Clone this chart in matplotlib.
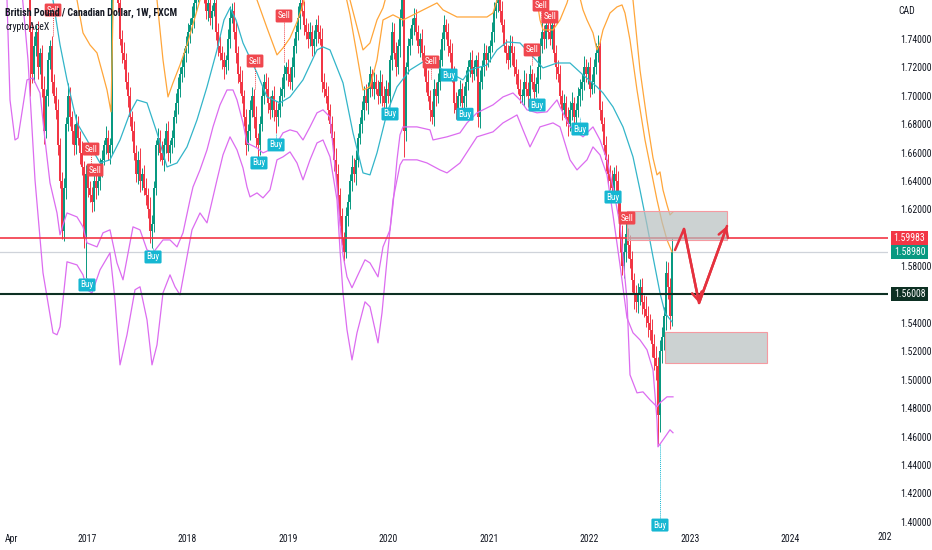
import numpy as np
import matplotlib
matplotlib.use("Agg")
import matplotlib.pyplot as plt
import matplotlib.transforms as mtransforms
from matplotlib.patches import Rectangle
from matplotlib import font_manager

# ---------------- data ----------------
START = 2016.393      # fractional year of the first weekly candle
STEP = 0.0199         # candle spacing (years)
OPEN0 = 1.862

closes = [
    1.86, 1.88, 1.745, 1.715, 1.735, 1.745, 1.72, 1.73, 1.705, 1.675, 1.70, 1.725, 1.735, 1.71, 1.70, 1.69, 1.665, 1.64,
    1.605, 1.635, 1.68, 1.70, 1.685, 1.675, 1.665, 1.68, 1.67, 1.66, 1.65, 1.60, 1.645, 1.635, 1.63, 1.625, 1.64, 1.635,
    1.64, 1.65, 1.655, 1.665, 1.67, 1.66, 1.665, 1.775, 1.78, 1.775, 1.765, 1.74, 1.73, 1.725, 1.71, 1.70, 1.685, 1.675,
    1.66, 1.645, 1.655, 1.64, 1.645, 1.635, 1.63, 1.62, 1.605, 1.61, 1.635, 1.665, 1.67, 1.66, 1.655, 1.665, 1.675, 1.66,
    1.665, 1.67, 1.685, 1.695, 1.705, 1.715, 1.72, 1.73, 1.735, 1.745, 1.75, 1.755, 1.765, 1.77, 1.775, 1.775, 1.78, 1.77,
    1.76, 1.765, 1.755, 1.76, 1.765, 1.745, 1.735, 1.73, 1.725, 1.72, 1.725, 1.74, 1.755, 1.76, 1.745, 1.73, 1.715, 1.71,
    1.70, 1.685, 1.665, 1.675, 1.69, 1.70, 1.685, 1.67, 1.665, 1.68, 1.70, 1.71, 1.705, 1.695, 1.69, 1.70, 1.69, 1.685,
    1.69, 1.70, 1.705, 1.715, 1.72, 1.715, 1.71, 1.72, 1.735, 1.745, 1.755, 1.765, 1.76, 1.75, 1.745, 1.74, 1.745, 1.735,
    1.74, 1.75, 1.745, 1.74, 1.71, 1.705, 1.70, 1.69, 1.68, 1.67, 1.655, 1.645, 1.63, 1.615, 1.60, 1.59, 1.615, 1.625,
    1.64, 1.65, 1.645, 1.655, 1.67, 1.68, 1.69, 1.70, 1.695, 1.705, 1.715, 1.705, 1.71, 1.705, 1.70, 1.71, 1.70, 1.695,
    1.705, 1.70, 1.725, 1.745, 1.73, 1.72, 1.735, 1.755, 1.77, 1.675, 1.72, 1.735, 1.74, 1.75, 1.755, 1.745, 1.735, 1.74,
    1.73, 1.72, 1.71, 1.70, 1.69, 1.685, 1.705, 1.70, 1.71, 1.725, 1.74, 1.75, 1.745, 1.735, 1.73, 1.715, 1.695, 1.69,
    1.70, 1.705, 1.695, 1.70, 1.71, 1.72, 1.725, 1.715, 1.72, 1.725, 1.685, 1.71, 1.72, 1.73, 1.725, 1.73, 1.735, 1.745,
    1.76, 1.765, 1.77, 1.76, 1.75, 1.735, 1.73, 1.725, 1.735, 1.73, 1.72, 1.715, 1.705, 1.70, 1.70, 1.71, 1.705, 1.70,
    1.715, 1.71, 1.703, 1.708, 1.72, 1.735, 1.745, 1.74, 1.75, 1.745, 1.74, 1.75, 1.73, 1.72, 1.715, 1.70, 1.69, 1.695,
    1.685, 1.68, 1.69, 1.695, 1.685, 1.69, 1.70, 1.705, 1.71, 1.72, 1.715, 1.72, 1.705, 1.71, 1.72, 1.73, 1.735, 1.69,
    1.68, 1.665, 1.655, 1.645, 1.64, 1.635, 1.645, 1.64, 1.625, 1.60, 1.58, 1.59, 1.603, 1.595, 1.585, 1.57, 1.56, 1.555,
    1.56, 1.565, 1.555, 1.55, 1.545, 1.54, 1.535, 1.525, 1.515, 1.51, 1.475, 1.52, 1.53, 1.545, 1.575, 1.565, 1.545, 1.5898,
]
# wick lengths in units of 0.001
up_wick = [
    8, 6, 5, 6, 7, 5, 8, 4, 6, 9, 5, 6, 4, 7, 5, 6, 8, 5,
    6, 7, 5, 9, 6, 4, 5, 7, 6, 5, 8, 4, 6, 7, 5, 6, 4, 8,
    5, 6, 7, 4, 9, 6, 5, 8, 6, 7, 4, 5, 6, 8, 5, 7, 6, 4,
    7, 5, 6, 8, 4, 6, 7, 5, 9, 6, 5, 4, 7, 6, 8, 5, 6, 7,
    4, 6, 5, 7, 8, 5, 6, 4, 7, 6, 5, 8, 6, 7, 5, 4, 6, 9,
    5, 7, 6, 4, 8, 5, 6, 7, 5, 6, 4, 7, 8, 5, 6, 7, 5, 6,
    8, 4, 6, 5, 7, 6, 5, 8, 4, 6, 7, 5, 6, 8, 5, 4, 7, 6,
    5, 6, 8, 7, 4, 6, 5, 7, 6, 5, 8, 6, 4, 7, 5, 6, 7, 5,
    6, 4, 7, 5, 8, 6, 5, 7, 4, 6, 5, 8, 7, 5, 6, 4, 7, 6,
    5, 8, 6, 7, 4, 5, 6, 7, 8, 5, 6, 4, 7, 5, 6, 8, 5, 7,
    6, 5, 4, 7, 6, 8, 5, 6, 7, 5, 4, 6, 8, 5, 7, 6, 5, 4,
    7, 6, 5, 8, 4, 6, 7, 5, 6, 8, 5, 7, 4, 6, 5, 7, 6, 8,
    5, 6, 4, 7, 8, 5, 6, 7, 5, 4, 6, 8, 5, 7, 6, 5, 4, 7,
    6, 8, 5, 6, 7, 4, 5, 6, 8, 7, 5, 6, 4, 7, 5, 8, 6, 5,
    7, 4, 6, 5, 8, 6, 7, 5, 4, 6, 7, 5, 8, 6, 5, 7, 4, 6,
    5, 7, 6, 8, 4, 5, 6, 7, 5, 8, 6, 4, 7, 5, 6, 7, 8, 5,
    6, 5, 7, 4, 6, 8, 5, 6, 7, 5, 9, 6, 8, 4, 7, 6, 5, 7,
    8, 6, 7, 5, 9, 7, 6, 8, 7, 9, 6, 8, 7, 6, 9, 8, 7, 10,
]
dn_wick = [
    7, 5, 45, 6, 5, 7, 8, 5, 6, 9, 5, 7, 6, 8, 5, 6, 7, 5,
    6, 7, 8, 5, 6, 9, 7, 6, 5, 8, 6, 7, 28, 6, 5, 7, 6, 8,
    5, 6, 7, 4, 6, 5, 8, 6, 7, 5, 6, 4, 7, 6, 5, 8, 6, 7,
    5, 6, 7, 8, 6, 5, 7, 6, 9, 12, 6, 5, 7, 6, 4, 8, 5, 6,
    7, 5, 6, 4, 8, 6, 5, 7, 6, 5, 8, 6, 7, 5, 4, 6, 7, 5,
    6, 7, 5, 8, 4, 6, 7, 5, 6, 8, 5, 7, 6, 4, 5, 7, 6, 8,
    5, 6, 7, 4, 6, 5, 8, 6, 10, 7, 5, 6, 4, 7, 6, 5, 8, 11,
    6, 5, 7, 6, 4, 8, 5, 6, 7, 5, 6, 8, 4, 7, 5, 6, 5, 7,
    6, 5, 8, 4, 7, 6, 5, 7, 6, 4, 8, 5, 6, 7, 5, 6, 4, 7,
    5, 7, 6, 8, 5, 4, 6, 7, 5, 8, 6, 5, 7, 4, 6, 5, 7, 6,
    8, 5, 6, 7, 4, 6, 5, 8, 6, 18, 7, 5, 6, 4, 7, 6, 5, 8,
    5, 6, 7, 4, 8, 5, 6, 7, 5, 6, 4, 8, 5, 7, 6, 5, 7, 6,
    4, 7, 6, 5, 8, 6, 7, 5, 4, 6, 7, 8, 5, 6, 7, 5, 6, 4,
    7, 5, 6, 8, 5, 4, 7, 6, 5, 8, 6, 7, 4, 5, 6, 7, 5, 8,
    6, 5, 7, 4, 6, 8, 5, 7, 6, 5, 4, 7, 6, 8, 5, 6, 7, 5,
    6, 8, 5, 7, 4, 6, 5, 7, 8, 6, 5, 7, 6, 4, 8, 5, 6, 7,
    5, 6, 8, 7, 6, 5, 9, 7, 8, 10, 6, 8, 7, 9, 6, 8, 10, 7,
    8, 7, 9, 6, 8, 10, 7, 9, 8, 10, 20, 12, 8, 9, 10, 8, 9, 7,
]

# indicator lines: positions in candle index units, values in CAD
ma_i = [0, 7, 13.5, 17, 20.5, 25.5, 30.5, 37, 42, 47, 52, 55.5, 60.5, 65.5, 70.5, 75.5, 80.5, 85.5, 90.5, 95.5,
        99, 102, 105, 108.5, 115.5, 120.5, 127, 132, 138.5, 145.5, 148.5, 152, 158.5, 163.5, 168.5, 172, 175.5,
        180.5, 185.5, 192, 198.5, 205.5, 212, 218.5, 222, 230.5, 235.5, 240.5, 247, 253.5, 258.5, 265.5, 272,
        278.5, 285.5, 288.5, 293.5, 298.5, 303.5, 307, 310.5, 313.5, 317, 319.5, 323]
ma_v = [1.87, 1.81, 1.7675, 1.736, 1.7112, 1.6809, 1.6689, 1.6527, 1.6549, 1.6689, 1.688, 1.6971, 1.695, 1.6739,
        1.6499, 1.6527, 1.664, 1.683, 1.7063, 1.7323, 1.7534, 1.7619, 1.7534, 1.7372, 1.7161, 1.6992, 1.695, 1.6992,
        1.7112, 1.7323, 1.7344, 1.7323, 1.7091, 1.6739, 1.6457, 1.6443, 1.6598, 1.688, 1.7063, 1.7182, 1.7239,
        1.7203, 1.7161, 1.7112, 1.7182, 1.7217, 1.7323, 1.7379, 1.7372, 1.7274, 1.7196, 1.7231, 1.7231, 1.7147,
        1.7063, 1.702, 1.6922, 1.6781, 1.657, 1.6337, 1.6091, 1.5866, 1.5612, 1.5471, 1.5408]

up1_i = [-10, 17, 25.5, 28.5, 32, 35.5, 38.5, 40.5, 42.5, 44, 62, 65.5, 68.5, 71, 73.5, 77, 80.5, 87, 92, 111,
         115.5, 120.5, 125.5, 128.5, 132, 135.5, 138.5, 142, 157, 162, 165.5, 168.5, 172, 175.5, 178.5, 183.5,
         188.5, 195.5, 205.5, 208.5, 215.5, 222, 230.5, 233.5, 235.5, 238.5, 252, 255.5, 257, 258.5, 263.5, 267,
         270.5, 273, 276, 278.5, 280.5, 283.5, 285.5, 287, 288.5, 292, 295.5, 298, 299.5, 302, 305.5, 309.5, 313,
         315.5, 318, 320.5, 323]
up1_v = [1.85, 1.81, 1.7675, 1.7443, 1.7358, 1.7302, 1.7147, 1.7041, 1.6887, 1.796, 1.796, 1.7675, 1.7253, 1.6992,
         1.7091, 1.7217, 1.7358, 1.7675, 1.796, 1.796, 1.7675, 1.7478, 1.7288, 1.7337, 1.7407, 1.752, 1.764, 1.789,
         1.789, 1.757, 1.7288, 1.7041, 1.7063, 1.7253, 1.7534, 1.757, 1.7534, 1.7583, 1.7654, 1.7605, 1.7555,
         1.7555, 1.7555, 1.7583, 1.7675, 1.785, 1.785, 1.7675, 1.7534, 1.7464, 1.7464, 1.7534, 1.7654, 1.778,
         1.7745, 1.7605, 1.7534, 1.7443, 1.7323, 1.7372, 1.7464, 1.7583, 1.7626, 1.764, 1.7583, 1.7393, 1.7041,
         1.6689, 1.6443, 1.6267, 1.6112, 1.5985, 1.5901]

up2_i = [-13, 157, 162, 165.5, 168.5, 172, 175.5, 178.5, 182, 297, 303.5, 307, 310.5, 313.5, 315.5, 317, 318.5,
         320.5, 322, 323.5]
up2_v = [1.95, 1.81, 1.7675, 1.7485, 1.7323, 1.7372, 1.7534, 1.7619, 1.78, 1.789, 1.7675, 1.7182, 1.683, 1.6563,
         1.6443, 1.6464, 1.6337, 1.6232, 1.6161, 1.6182]

lo1_i = [-13, -9.5, -8, -5.5, -4, 0.5, 3.5, 7, 9.5, 12, 15.5, 17, 18.5, 20.5, 25.5, 28.5, 30.5, 35.5, 38.5, 42,
         45.5, 48.5, 53.5, 57, 60.5, 63.5, 68.5, 72, 75.5, 78.5, 82, 83.5, 87, 90.5, 93.5, 97, 100.5, 103.5, 105.5,
         108.5, 110.5, 115.5, 118.5, 122, 125.5, 128.5, 132, 135.5, 138.5, 142, 145.5, 148.5, 152, 153.5, 155.5,
         157, 158.5, 160.5, 163, 165.5, 169.5, 172, 176, 178.5, 182, 183.5, 185.5, 187, 188.5, 195.5, 202, 203.5,
         210.5, 217, 220.5, 225.5, 233.5, 238.5, 243.5, 247, 250.5, 255.5, 260.5, 265.5, 267, 272, 278.5, 283.5,
         287, 290.5, 293.5, 297, 300.5, 302, 305.5, 308.5, 312, 315.5, 317, 320.5, 323.5]
lo1_v = [1.824, 1.7675, 1.6971, 1.6689, 1.6703, 1.7112, 1.7126, 1.702, 1.6689, 1.6387, 1.6175, 1.6021, 1.6091,
         1.6175, 1.6147, 1.6077, 1.5964, 1.5936, 1.6035, 1.6056, 1.5823, 1.5704, 1.6077, 1.6056, 1.5915, 1.5894,
         1.5985, 1.5985, 1.5936, 1.6035, 1.6267, 1.6358, 1.6478, 1.6619, 1.6781, 1.6936, 1.7041, 1.7041, 1.6971,
         1.6809, 1.6668, 1.6633, 1.6598, 1.6619, 1.6668, 1.6739, 1.676, 1.6746, 1.6689, 1.6781, 1.688, 1.6901,
         1.6851, 1.664, 1.6358, 1.6091, 1.588, 1.5725, 1.5648, 1.5725, 1.5845, 1.5823, 1.5725, 1.5936, 1.6056,
         1.6232, 1.6549, 1.6725, 1.6781, 1.6781, 1.676, 1.6689, 1.6711, 1.6739, 1.6809, 1.688, 1.6936, 1.6992,
         1.702, 1.6971, 1.6901, 1.688, 1.6887, 1.6971, 1.6922, 1.6781, 1.6711, 1.6781, 1.6689, 1.6549, 1.6358,
         1.6091, 1.5563, 1.5035, 1.4908, 1.4915, 1.4859, 1.481, 1.4838, 1.488, 1.488]

lo2_i = [-3, 1, 4.5, 8.5, 13.5, 15.5, 17, 18.5, 20.5, 25.5, 28.5, 30.5, 33, 37, 42, 44.5, 47, 50.5, 54.5, 57, 60.5,
         63, 65.5, 68.5, 72, 74.5, 77, 80.5, 83, 87, 90.5, 95.5, 98.5, 102, 105.5, 108.5, 110.5, 112, 115.5, 118.5,
         122, 125.5, 128.5, 132, 135.5, 138.5, 142, 145.5, 148.5, 152, 155.5, 157, 158.5, 160.5, 163, 165.5, 169.5,
         172, 176, 178, 180.5, 183.5, 187, 188.5, 195.5, 200.5, 207, 210.5, 217, 225.5, 233.5, 238.5, 245.5, 248.5,
         252, 257, 263.5, 267, 272, 275.5, 280.5, 283.5, 287, 290.5, 293.5, 297, 300.5, 303.5, 307, 310.5, 313.5,
         315.5, 316, 318.5, 322, 323.5]
lo2_v = [1.7886, 1.7253, 1.6408, 1.5753, 1.5331, 1.5317, 1.5373, 1.5563, 1.5831, 1.5809, 1.5739, 1.5634, 1.5612,
         1.5774, 1.5894, 1.5563, 1.5105, 1.5317, 1.5634, 1.5655, 1.5422, 1.5105, 1.5246, 1.5612, 1.5739, 1.5655,
         1.5598, 1.5866, 1.6056, 1.6175, 1.6105, 1.6408, 1.6584, 1.6711, 1.6619, 1.6492, 1.6358, 1.6288, 1.6316,
         1.6281, 1.6337, 1.6549, 1.657, 1.6605, 1.6527, 1.6408, 1.6549, 1.6668, 1.6689, 1.657, 1.6267, 1.5915,
         1.5612, 1.5352, 1.514, 1.5331, 1.5549, 1.5514, 1.526, 1.5471, 1.5845, 1.6267, 1.6513, 1.6549, 1.6549,
         1.6527, 1.6478, 1.6457, 1.6527, 1.6711, 1.6746, 1.6809, 1.6865, 1.676, 1.664, 1.6781, 1.6809, 1.6781,
         1.6549, 1.6478, 1.6549, 1.664, 1.6584, 1.6443, 1.6161, 1.5809, 1.5436, 1.5331, 1.5281, 1.5211, 1.507,
         1.4718, 1.4528, 1.4577, 1.4648, 1.4627]

# signals
sell_dates = [2016.662, 2017.040, 2017.080, 2018.672, 2018.960, 2020.423, 2021.428, 2021.517, 2021.607, 2022.373]
sell_prices = [1.7604, 1.6625, 1.6477, 1.7245, 1.7562, 1.7238, 1.7323, 1.7639, 1.7555, 1.6139]
buy_dates = [2017.000, 2017.657, 2018.711, 2018.881, 2020.015, 2020.602, 2020.761, 2021.478, 2021.905, 2022.234, 2022.701]
buy_prices = [1.5668, 1.5865, 1.6527, 1.6654, 1.6872, 1.7146, 1.687, 1.6935, 1.6766, 1.6287, 1.3977]

# drawings
level_resist = 1.59983
level_support = 1.56008
last_price = 1.58980
zone1 = (2022.373, 2023.368, 1.5984, 1.6189)   # x0, x1, y0, y1
zone2 = (2022.751, 2023.766, 1.5118, 1.5337)
arrow_dates = [2022.851, 2022.940, 2023.090, 2023.368]
arrow_prices = [1.5914, 1.6062, 1.5541, 1.6083]

year_ticks = [2016.25, 2017, 2018, 2019, 2020, 2021, 2022, 2023, 2024]
year_labels = ["Apr", "2017", "2018", "2019", "2020", "2021", "2022", "2023", "2024"]
price_ticks = [1.40, 1.42, 1.44, 1.46, 1.48, 1.50, 1.52, 1.54, 1.58, 1.62, 1.64, 1.66, 1.68, 1.70, 1.72, 1.74]

# ---------------- fonts ----------------
def pick_font():
    fl = font_manager.fontManager.ttflist
    names = {f.name for f in fl}
    for n in ["Liberation Sans Narrow", "Roboto Condensed", "DejaVu Sans Condensed",
              "Noto Sans Condensed", "Open Sans Condensed"]:
        if n in names:
            return n, "normal"
    for f in fl:
        if f.stretch in ("condensed", "semi-condensed") and f.style == "normal" and \
                f.name in ("DejaVu Sans", "Noto Sans", "Open Sans", "Roboto", "Liberation Sans"):
            return f.name, f.stretch
    return None, "normal"

fname, fstretch = pick_font()
if fname:
    plt.rcParams["font.family"] = [fname, "DejaVu Sans"]
    plt.rcParams["font.stretch"] = fstretch
    FS, FS_T = 7.0, 7.2
else:
    plt.rcParams["font.family"] = ["Roboto", "DejaVu Sans"]
    FS, FS_T = 6.2, 6.3

GREEN = "#089981"
RED = "#f23645"
CYAN = "#33b5c9"
ORANGE = "#ffa63a"
MAGENTA = "#dc6cf0"
TXT = "#131722"
BUYC = "#16b7d2"
SELLC = "#f0474e"

fig = plt.figure(figsize=(9.32, 5.5), dpi=100)
ax = fig.add_axes([0, 22 / 550, 888 / 932, 528 / 550])
ax.set_xlim(2016.1343, 2024.970)
ax.set_ylim(1.39563, 1.76746)
for s in ax.spines.values():
    s.set_visible(False)

def xpos(idx):
    return START + STEP * np.asarray(idx, dtype=float)

# candles
c = np.array(closes)
o = np.array([OPEN0] + closes[:-1])
hi = np.maximum(o, c) + np.array(up_wick) / 1000.0
lo = np.minimum(o, c) - np.array(dn_wick) / 1000.0
x = xpos(np.arange(len(c)))
col = np.where(c >= o, GREEN, RED)
ax.vlines(x, lo, hi, colors=col, lw=0.7, zorder=3)
ax.bar(x, np.maximum(np.abs(c - o), 0.0008), bottom=np.minimum(o, c), width=STEP * 0.9,
       color=col, lw=0, zorder=3)

# indicator lines
ax.plot(xpos(ma_i), ma_v, color=CYAN, lw=0.9, zorder=4)
ax.plot(xpos(up1_i), up1_v, color=ORANGE, lw=0.9, zorder=4)
ax.plot(xpos(up2_i), up2_v, color=ORANGE, lw=0.9, zorder=4)
ax.plot(xpos(lo1_i), lo1_v, color=MAGENTA, lw=0.9, zorder=4)
ax.plot(xpos(lo2_i), lo2_v, color=MAGENTA, lw=0.9, zorder=4)

# horizontal levels
ax.axhline(last_price, color="#cfd3da", lw=0.9, zorder=2)
ax.axhline(level_resist, color=RED, lw=1.2, zorder=5)
ax.axhline(level_support, color="#0d3023", lw=1.5, zorder=5)

# zones
for (x0, x1, y0, y1) in (zone1, zone2):
    ax.add_patch(Rectangle((x0, y0), x1 - x0, y1 - y0, facecolor="#b7bfbf", alpha=0.7,
                           edgecolor="none", zorder=6))
    ax.add_patch(Rectangle((x0, y0), x1 - x0, y1 - y0, facecolor="none",
                           edgecolor="#f59aa1", lw=0.8, zorder=6))

# projection arrows
ax.plot(arrow_dates, arrow_prices, color="#e5313e", lw=1.8, zorder=7, solid_capstyle="round")
for k in (2, 3):
    ax.annotate("", xy=(arrow_dates[k], arrow_prices[k]),
                xytext=(arrow_dates[k - 1], arrow_prices[k - 1]),
                arrowprops=dict(arrowstyle="->,head_length=0.6,head_width=0.35", color="#e5313e",
                                lw=1.8, shrinkA=0, shrinkB=0), zorder=7)

# signals with dotted connectors to the bar
HALF = 0.0045
def near(d):
    k = int(round((d - START) / STEP))
    return max(0, k - 1), min(len(c), k + 2)

for d, p in zip(sell_dates, sell_prices):
    a, b = near(d)
    top = hi[a:b].max()
    if p - HALF > top:
        ax.plot([d, d], [top, p - HALF], color=SELLC, lw=0.7, ls=(0, (1, 1)), zorder=8)
    ax.text(d, p, "Sell", color="white", fontsize=FS - 0.5, ha="center", va="center", zorder=9,
            bbox=dict(boxstyle="round,pad=0.22,rounding_size=0.15", fc=SELLC, ec="none"))
for d, p in zip(buy_dates, buy_prices):
    a, b = near(d)
    bot = lo[a:b].min()
    if p + HALF < bot:
        ax.plot([d, d], [p + HALF, bot], color=BUYC, lw=0.7, ls=(0, (1, 1)), zorder=8)
    ax.text(d, p, "Buy", color="white", fontsize=FS - 0.5, ha="center", va="center", zorder=9, clip_on=False,
            bbox=dict(boxstyle="round,pad=0.22,rounding_size=0.15", fc=BUYC, ec="none"))

# axes ticks
ax.yaxis.tick_right()
ax.set_yticks(price_ticks)
ax.set_yticklabels([f"{v:.5f}" for v in price_ticks])
ax.tick_params(axis="y", length=0, pad=9, labelsize=FS, labelcolor=TXT)
ax.set_xticks(year_ticks)
ax.set_xticklabels(year_labels)
ax.tick_params(axis="x", length=0, pad=4, labelsize=FS, labelcolor=TXT)
ax.text(2024.94, -9 / 528, "202", transform=mtransforms.blended_transform_factory(ax.transData, ax.transAxes),
        ha="center", va="center", fontsize=FS, color=TXT, clip_on=False)

# right price boxes
trans = mtransforms.blended_transform_factory(ax.transAxes, ax.transData)
bh = 14 / 1420
for p, fc in ((level_resist, RED), (last_price, GREEN), (level_support, "#0d3023")):
    ax.add_patch(Rectangle((891 / 888, p - bh / 2), 37 / 888, bh, transform=trans, facecolor=fc,
                           edgecolor="none", clip_on=False, zorder=10))
    ax.text(909.5 / 888, p, f"{p:.5f}", transform=trans, ha="center", va="center", fontsize=FS,
            color="white", clip_on=False, zorder=11)
ax.text(898 / 888, 1 - 11 / 528, "CAD", transform=ax.transAxes, ha="left", va="center", fontsize=FS,
        color=TXT, clip_on=False)

# legend texts
ax.text(5 / 888, 1 - 13 / 528, "British Pound / Canadian Dollar, 1W, FXCM", transform=ax.transAxes,
        ha="left", va="center", fontsize=FS_T, color=TXT, zorder=12, fontweight="semibold")
ax.text(5 / 888, 1 - 27 / 528, "cryptoAceX", transform=ax.transAxes, ha="left", va="center",
        fontsize=FS, color=TXT, zorder=12)

fig.savefig("out.png", dpi=100, facecolor="white")
